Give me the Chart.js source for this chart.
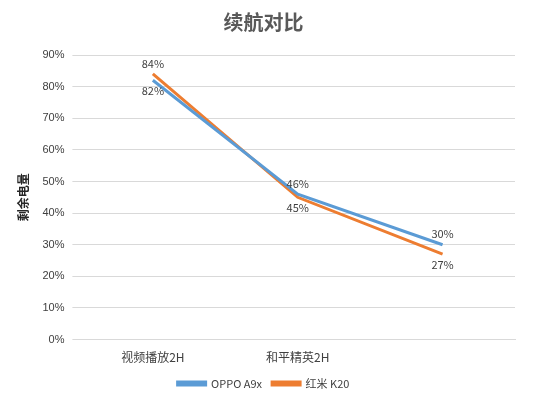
<!DOCTYPE html>
<html><head><meta charset="utf-8">
<script src="https://cdn.jsdelivr.net/npm/chart.js"></script>
<style>body{margin:0;background:#fff}#w{width:535px;height:401px}</style>
</head><body><div id="w"><canvas id="c"></canvas></div>
<script>
const categories=["视频播放2H","和平精英2H",""];
const oppo=[82,46,30];
const redmi=[84,45,27];
const yTicks=[0,10,20,30,40,50,60,70,80,90];
const oppoPos=["below","above","above"];
const redmiPos=["above","below","below"];
const labelPlugin={id:"lbl",afterDatasetsDraw(ch){const ctx=ch.ctx;ctx.save();ctx.font="11px 'Noto Sans CJK SC'";ctx.fillStyle="#404040";ctx.textAlign="center";
[[0,oppoPos],[1,redmiPos]].forEach(([i,pos])=>{ch.getDatasetMeta(i).data.forEach((p,j)=>{const v=ch.data.datasets[i].data[j];ctx.textBaseline=pos[j]==="above"?"bottom":"top";ctx.fillText(v+"%",p.x,p.y+(pos[j]==="above"?-5:5));});});ctx.restore();}};
new Chart(document.getElementById("c"),{type:"line",data:{labels:categories,datasets:[
{label:"OPPO A9x",data:oppo,borderColor:"#5b9bd5",backgroundColor:"#5b9bd5",borderWidth:3,pointRadius:0,tension:0},
{label:"红米 K20",data:redmi,borderColor:"#ed7d31",backgroundColor:"#ed7d31",borderWidth:3,pointRadius:0,tension:0}]},
options:{responsive:true,maintainAspectRatio:false,animation:false,layout:{padding:{left:12,right:20,top:4,bottom:2}},
plugins:{title:{display:true,text:"续航对比",color:"#595959",font:{size:20,weight:"bold",family:"'Noto Sans CJK SC'"},padding:{top:6,bottom:21}},
legend:{position:"bottom",labels:{boxWidth:28,boxHeight:3,color:"#404040",font:{size:11,family:"'Noto Sans CJK SC'"},padding:10}},tooltip:{enabled:false}},
scales:{x:{offset:true,grid:{display:false},border:{color:"#d9d9d9"},ticks:{color:"#404040",font:{size:12,family:"'Noto Sans CJK SC'"}}},
y:{min:0,max:90,afterBuildTicks(a){a.ticks=yTicks.map(v=>({value:v}));},grid:{color:"#d9d9d9"},border:{display:false},
ticks:{color:"#404040",font:{size:11},callback:v=>v+"%",padding:8},
title:{display:true,text:"剩余电量",color:"#262626",font:{size:12,weight:"bold",family:"'Noto Sans CJK SC'"}}}}},
plugins:[labelPlugin]});
</script></body></html>
